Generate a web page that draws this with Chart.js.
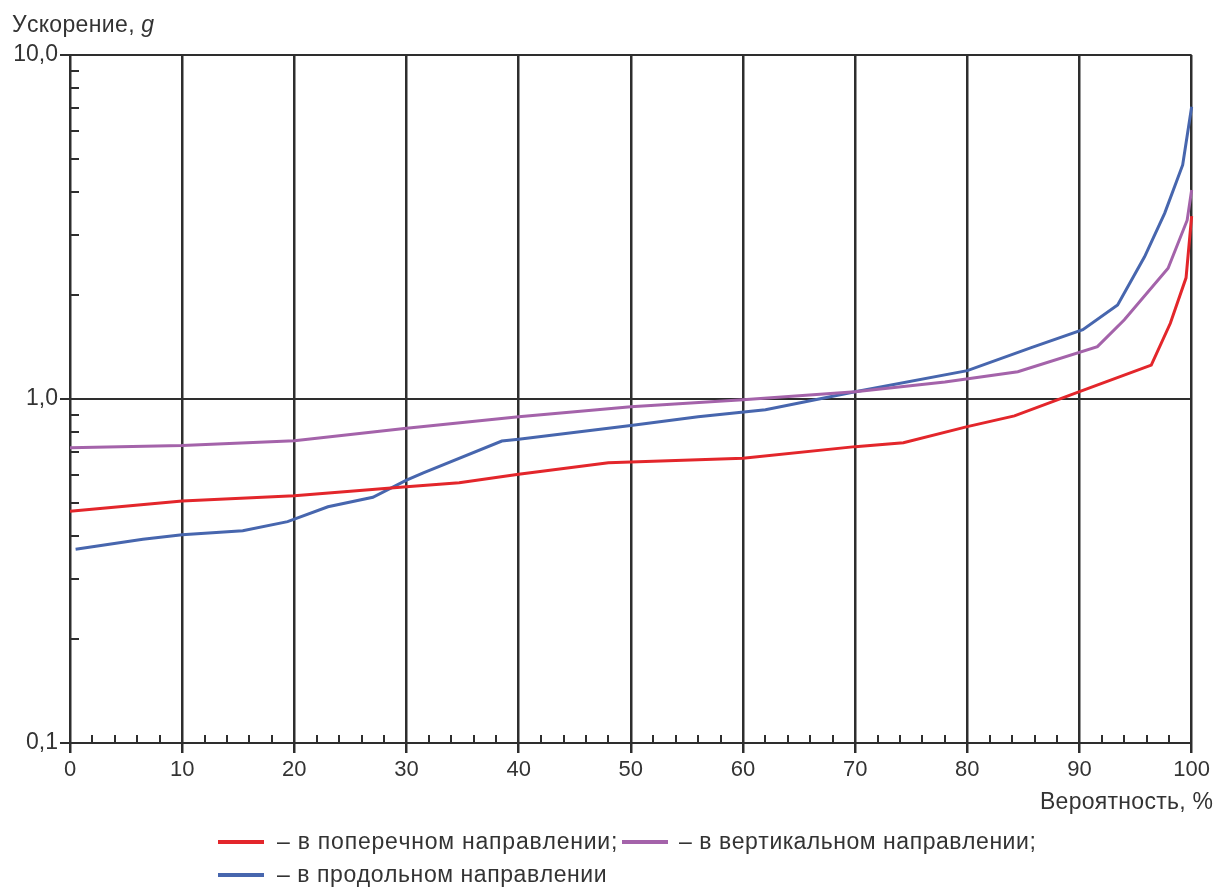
<!DOCTYPE html>
<html><head><meta charset="utf-8">
<script src="https://cdn.jsdelivr.net/npm/chart.js@4/dist/chart.umd.min.js"></script>
<style>html,body{margin:0;padding:0;background:#fff;overflow:hidden}canvas{display:block}</style>
</head><body>
<canvas id="c" width="1214" height="887"></canvas>
<script>
// ---- data ----
const redX    = [0, 10, 20, 30, 34.7, 40, 48, 60, 70, 74.3, 80, 84.2, 90, 96.4, 98.1, 99.5, 100];
const redY    = [0.472, 0.505, 0.523, 0.556, 0.571, 0.604, 0.653, 0.673, 0.727, 0.746, 0.831, 0.893, 1.05, 1.255, 1.66, 2.25, 3.4];
const purpleX = [0, 10, 20, 30, 40, 50, 60, 70, 78, 84.5, 91.6, 94, 97.9, 99.6, 100];
const purpleY = [0.722, 0.732, 0.756, 0.822, 0.888, 0.95, 0.995, 1.05, 1.12, 1.2, 1.42, 1.70, 2.40, 3.31, 4.05];
const blueX   = [0.5, 6.5, 10, 15.4, 19.4, 23, 27, 30, 31.5, 38.5, 40, 50, 56, 62, 70, 80, 85.7, 90.3, 93.4, 95.8, 97.6, 99.2, 100];
const blueY   = [0.366, 0.391, 0.403, 0.414, 0.440, 0.486, 0.518, 0.581, 0.61, 0.755, 0.764, 0.837, 0.888, 0.93, 1.05, 1.209, 1.41, 1.59, 1.876, 2.59, 3.47, 4.79, 7.07];
const xTicks = [0, 10, 20, 30, 40, 50, 60, 70, 80, 90, 100];
const xTickLabels = ['0', '10', '20', '30', '40', '50', '60', '70', '80', '90', '100'];
const yTicks = [0.1, 1, 10];
const yTickLabels = ['0,1', '1,0', '10,0'];
const seriesNames = ['– в поперечном направлении;', '– в вертикальном направлении;', '– в продольном направлении'];
const yTitle = 'Ускорение, ';
const yTitleUnit = 'g';
const xTitle = 'Вероятность, %';

const COL = { red: '#e3262b', purple: '#a463aa', blue: '#4766ae', axis: '#2e2e2e' };
const FONT = 'Liberation Sans, Arial, sans-serif';

function pts(xs, ys) { return xs.map((x, i) => ({ x: x, y: ys[i] })); }

// draw text spread to a target width (extra letter spacing)
function spreadText(c, text, x, y, target) {
  const chars = Array.from(text);
  const w = c.measureText(text).width;
  const sp = chars.length > 1 ? Math.max(0, (target - w) / (chars.length - 1)) : 0;
  let cx = x;
  chars.forEach(ch => { c.fillText(ch, cx, y); cx += c.measureText(ch).width + sp; });
  return cx - sp;
}

const overlay = {
  id: 'overlay',
  beforeDatasetsDraw(chart) {
    const c = chart.ctx, xs = chart.scales.x, ys = chart.scales.y, a = chart.chartArea;
    c.save();
    c.strokeStyle = COL.axis; c.lineWidth = 2;
    for (let v = 2; v < 100; v += 2) {
      if (v % 10 === 0) continue;
      const x = Math.round(xs.getPixelForValue(v));
      c.beginPath(); c.moveTo(x, a.bottom); c.lineTo(x, a.bottom - 8); c.stroke();
    }
    [0.1, 1].forEach(d => {
      for (let k = 2; k <= 9; k++) {
        const y = Math.round(ys.getPixelForValue(k * d));
        c.beginPath(); c.moveTo(a.left, y); c.lineTo(a.left + 9, y); c.stroke();
      }
    });
    c.restore();
  },
  afterDraw(chart) {
    const c = chart.ctx;
    c.save();
    c.fillStyle = '#333';
    c.textBaseline = 'alphabetic';
    c.textAlign = 'left';
    // y title
    c.font = '23px ' + FONT;
    const end = spreadText(c, yTitle, 12, 32, 128);
    c.font = 'italic 23px ' + FONT;
    c.fillText(yTitleUnit, end, 32);
    // x title
    c.font = '23px ' + FONT;
    spreadText(c, xTitle, 1040, 809, 173);
    // legend
    const items = [
      { col: COL.red, sx: 218, tx: 277, y: 842, t: seriesNames[0], w: 339 },
      { col: COL.purple, sx: 622, tx: 679, y: 842, t: seriesNames[1], w: 356 },
      { col: COL.blue, sx: 218, tx: 277, y: 875, t: seriesNames[2], w: 328 }
    ];
    c.font = '23px ' + FONT;
    c.textBaseline = 'middle';
    items.forEach(it => {
      c.strokeStyle = it.col; c.lineWidth = 4;
      c.beginPath(); c.moveTo(it.sx, it.y); c.lineTo(it.sx + 46, it.y); c.stroke();
      spreadText(c, it.t, it.tx, it.y + 1, it.w);
    });
    c.restore();
  }
};

const ds = (label, xs, ys, col) => ({
  label: label, data: pts(xs, ys), borderColor: col, backgroundColor: col,
  borderWidth: 3, pointRadius: 0, tension: 0, fill: false, clip: false
});

new Chart(document.getElementById('c'), {
  type: 'line',
  data: { datasets: [
    ds(seriesNames[0], redX, redY, COL.red),
    ds(seriesNames[1], purpleX, purpleY, COL.purple),
    ds(seriesNames[2], blueX, blueY, COL.blue)
  ] },
  options: {
    responsive: false, animation: false, devicePixelRatio: 1,
    layout: { padding: { left: 0, top: 55, right: 20, bottom: 0 } },
    plugins: { legend: { display: false }, tooltip: { enabled: false } },
    scales: {
      x: {
        type: 'linear', min: 0, max: 100,
        afterBuildTicks: s => { s.ticks = xTicks.map(v => ({ value: v })); },
        ticks: {
          autoSkip: false, maxRotation: 0, padding: 4, color: '#333',
          font: { family: FONT, size: 22 },
          callback: v => xTickLabels[xTicks.indexOf(v)]
        },
        grid: { color: COL.axis, lineWidth: 2.5, tickLength: 10 },
        border: { color: COL.axis, width: 2 },
        afterFit: s => { s.height = 144; }
      },
      y: {
        type: 'logarithmic', min: 0.1, max: 10,
        afterBuildTicks: s => { s.ticks = yTicks.map(v => ({ value: v })); },
        ticks: {
          autoSkip: false, padding: 2, color: '#333',
          font: { family: FONT, size: 23 },
          callback: v => yTickLabels[yTicks.indexOf(v)]
        },
        grid: { color: COL.axis, lineWidth: 2, tickLength: 10 },
        border: { color: COL.axis, width: 2 },
        afterFit: s => { s.width = 70; }
      }
    }
  },
  plugins: [overlay]
});
</script>
</body></html>
